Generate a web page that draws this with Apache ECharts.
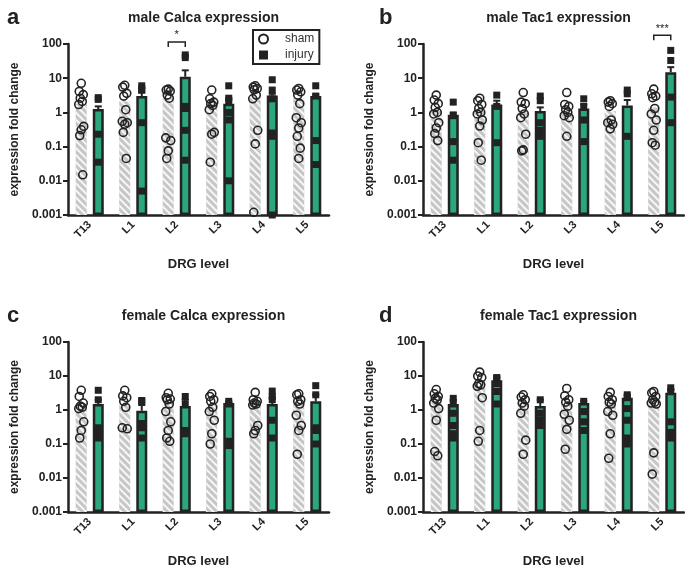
<!DOCTYPE html>
<html>
<head>
<meta charset="utf-8">
<script src="https://cdn.jsdelivr.net/npm/echarts@6/dist/echarts.min.js"></script>
<style>
  html, body { margin: 0; padding: 0; background: #fff; }
  #main { width: 685px; height: 569px; }
</style>
</head>
<body>
<div id="main"></div>
<script>
var categories = ['T13', 'L1', 'L2', 'L3', 'L4', 'L5'];
var yTickLabels = ['0.001', '0.01', '0.1', '1', '10', '100'];
var panelTitles = ['male Calca expression', 'male Tac1 expression', 'female Calca expression', 'female Tac1 expression'];
var panelLetters = ['a', 'b', 'c', 'd'];
var axisFloor = [0.001, 0.001, 0.001, 0.001, 0.001, 0.001];

// male Calca
var maleCalcaShamMean = [1.8, 2.1, 2.6, 1.8, 3.0, 2.6];
var maleCalcaInjuryMean = [1.25, 3.0, 11, 1.8, 3.1, 3.0];
var maleCalcaInjuryErr = [1.5, 3.8, 17, 2.5, 3.5, 3.3];
var maleCalcaShamPts = [
  [7.1, 4.1, 3.3, 2.6, 2.1, 1.7, 0.39, 0.31, 0.21, 0.015],
  [6.2, 5.5, 3.6, 3.0, 1.2, 0.55, 0.5, 0.45, 0.26, 0.045],
  [4.8, 4.5, 4.2, 3.2, 2.6, 0.18, 0.15, 0.075, 0.045],
  [4.5, 2.5, 2.0, 1.8, 1.6, 1.2, 0.26, 0.23, 0.035],
  [6.0, 5.5, 5.0, 4.6, 3.2, 2.5, 0.3, 0.12, 0.0012],
  [5.0, 4.5, 4.0, 3.2, 1.8, 0.7, 0.5, 0.35, 0.2, 0.09, 0.045]
];
var maleCalcaInjuryPts = [
  [2.7, 2.4, 0.23, 0.035],
  [6.0, 5.0, 4.5, 0.5, 0.005],
  [48, 40, 1.5, 1.3, 0.3, 0.04],
  [6.0, 2.6, 2.2, 1.0, 0.6, 0.01],
  [9.0, 4.5, 2.5, 0.25, 0.2, 0.001],
  [6.0, 3.0, 0.15, 0.03]
];

// male Tac1
var maleTac1ShamMean = [1.1, 1.1, 1.0, 1.1, 1.1, 1.4];
var maleTac1InjuryMean = [0.85, 1.7, 1.1, 1.3, 1.6, 15];
var maleTac1InjuryErr = [1.0, 2.2, 1.4, 1.7, 2.3, 21];
var maleTac1ShamPts = [
  [3.2, 2.3, 1.8, 1.4, 1.0, 0.9, 0.5, 0.35, 0.24, 0.15],
  [2.6, 2.2, 1.7, 1.3, 1.0, 0.9, 0.6, 0.4, 0.13, 0.04],
  [3.8, 2.0, 1.8, 1.3, 0.9, 0.7, 0.23, 0.08, 0.075],
  [3.8, 1.7, 1.5, 1.2, 1.0, 0.8, 0.7, 0.2],
  [2.2, 2.0, 1.8, 1.5, 0.6, 0.5, 0.45, 0.33],
  [4.8, 3.5, 3.0, 2.7, 1.3, 0.9, 0.6, 0.3, 0.13, 0.11]
];
var maleTac1InjuryPts = [
  [2.0, 0.8, 0.14, 0.04],
  [3.2, 1.5, 0.13],
  [3.0, 2.2, 0.5, 0.3, 0.2],
  [2.5, 1.5, 0.6, 0.14],
  [4.5, 3.5, 0.2],
  [65, 33, 2.8, 0.5]
];

// female Calca
var femaleCalcaShamMean = [1.2, 1.5, 1.5, 1.4, 1.5, 1.6];
var femaleCalcaInjuryMean = [1.5, 0.95, 1.3, 1.6, 1.5, 1.8];
var femaleCalcaInjuryErr = [2.0, 1.4, 2.0, 1.7, 2.3, 2.8];
var femaleCalcaShamPts = [
  [3.8, 2.5, 1.6, 1.3, 1.2, 1.1, 0.45, 0.25, 0.15],
  [3.8, 2.6, 2.3, 1.8, 1.2, 0.3, 0.28],
  [3.1, 2.3, 2.1, 2.0, 1.5, 0.9, 0.45, 0.25, 0.15, 0.12],
  [3.0, 2.5, 2.0, 1.8, 1.2, 0.9, 0.5, 0.2, 0.1],
  [3.3, 2.0, 1.8, 1.6, 1.5, 1.4, 0.35, 0.25, 0.2],
  [3.0, 2.8, 2.0, 1.8, 1.5, 0.7, 0.35, 0.25, 0.05]
];
var femaleCalcaInjuryPts = [
  [3.8, 2.0, 0.3, 0.2, 0.15],
  [1.9, 1.8, 0.4, 0.3, 0.15],
  [2.5, 1.5, 0.25, 0.2],
  [1.8, 1.5, 0.12, 0.09],
  [3.6, 2.5, 2.0, 0.5, 0.15],
  [5.2, 2.8, 0.3, 0.25, 0.1]
];

// female Tac1
var femaleTac1ShamMean = [1.7, 5.0, 1.6, 1.5, 1.5, 2.0];
var femaleTac1InjuryMean = [1.5, 7.5, 1.3, 1.6, 2.3, 3.2];
var femaleTac1InjuryErr = [2.0, 9.0, 2.0, 1.8, 2.8, 4.0];
var femaleTac1ShamPts = [
  [4.0, 3.0, 2.5, 2.2, 2.0, 1.6, 1.1, 0.5, 0.06, 0.045],
  [13, 10, 9, 6, 5.5, 5, 2.3, 0.25, 0.12],
  [2.8, 2.4, 2.0, 1.6, 1.3, 0.8, 0.13, 0.05],
  [4.3, 2.6, 2.0, 1.7, 1.3, 0.75, 0.5, 0.27, 0.07],
  [3.3, 2.5, 2.0, 1.7, 1.5, 0.9, 0.7, 0.2, 0.038],
  [3.5, 3.2, 2.5, 2.0, 1.7, 1.6, 1.5, 0.055, 0.013]
];
var femaleTac1InjuryPts = [
  [2.2, 1.5, 0.8, 0.35, 0.2, 0.15],
  [9.0, 8.5, 6.0, 3.5, 1.5],
  [2.0, 0.8, 0.5, 0.35],
  [1.8, 0.9, 0.45, 0.25],
  [2.8, 2.3, 1.1, 0.5, 0.15, 0.1],
  [4.5, 3.5, 0.45, 0.22, 0.15]
];

// significance brackets: panel, category, level, label
var sigPanels = [0, 1];
var sigCats = [2, 5];
var sigLevels = [115, 180];
var sigLabels = ['*', '***'];

var panels = [
  { shamMean: maleCalcaShamMean, injMean: maleCalcaInjuryMean, injErr: maleCalcaInjuryErr, shamPts: maleCalcaShamPts, injPts: maleCalcaInjuryPts },
  { shamMean: maleTac1ShamMean, injMean: maleTac1InjuryMean, injErr: maleTac1InjuryErr, shamPts: maleTac1ShamPts, injPts: maleTac1InjuryPts },
  { shamMean: femaleCalcaShamMean, injMean: femaleCalcaInjuryMean, injErr: femaleCalcaInjuryErr, shamPts: femaleCalcaShamPts, injPts: femaleCalcaInjuryPts },
  { shamMean: femaleTac1ShamMean, injMean: femaleTac1InjuryMean, injErr: femaleTac1InjuryErr, shamPts: femaleTac1ShamPts, injPts: femaleTac1InjuryPts }
];

var FONT = 'Arial, "Liberation Sans", sans-serif';
var INK = '#222';
var GREEN = '#2aa87b';
var OFF = 8.5;
var jitter = [0, -2, 2, -1, 1, -2.5, 2.5, 0, -1.5, 1.5, 0];

var gridPos = [
  { left: 68, top: 44 }, { left: 423, top: 44 },
  { left: 68, top: 342 }, { left: 423, top: 342 }
];

var grids = [], xAxes = [], yAxes = [], series = [], titles = [];

// bars on a log axis grow from 1, so each bar sits on a transparent
// stacked floor at the axis minimum
function floorBar(p, stack) {
  return {
    name: 'floor', type: 'bar', xAxisIndex: p, yAxisIndex: p, stack: stack,
    barWidth: 11, barGap: '55%', silent: true,
    itemStyle: { color: 'rgba(0,0,0,0)' },
    data: axisFloor
  };
}

gridPos.forEach(function (g, p) {
  grids.push({ left: g.left, top: g.top, width: 261, height: 171 });
  xAxes.push({
    type: 'category', gridIndex: p, data: categories,
    name: 'DRG level', nameLocation: 'middle', nameGap: 43,
    nameTextStyle: { fontFamily: FONT, fontWeight: 'bold', fontSize: 13, color: INK },
    axisLine: { lineStyle: { color: INK, width: 2.5 } },
    axisTick: { alignWithLabel: true, length: 5, lineStyle: { color: INK, width: 2 } },
    axisLabel: { rotate: 45, fontFamily: FONT, fontWeight: 'bold', fontSize: 11, color: INK, margin: 8 }
  });
  yAxes.push({
    type: 'log', logBase: 10, gridIndex: p, min: 0.001, max: 100,
    name: 'expression fold change', nameLocation: 'middle', nameGap: 47,
    nameTextStyle: { fontFamily: FONT, fontWeight: 'bold', fontSize: 12, color: INK },
    axisLine: { show: true, lineStyle: { color: INK, width: 2.5 } },
    axisTick: { show: true, length: 5, lineStyle: { color: INK, width: 2 } },
    minorTick: { show: false },
    splitLine: { show: false },
    axisLabel: {
      fontFamily: FONT, fontWeight: 'bold', fontSize: 12, color: INK, margin: 6,
      formatter: function (v) { return yTickLabels[Math.round(Math.log10(v)) + 3]; }
    }
  });
  titles.push({
    text: panelTitles[p], left: g.left + 130.5, top: g.top - 38, textAlign: 'center',
    textStyle: { fontFamily: FONT, fontWeight: 'bold', fontSize: 14, color: INK }
  });
  titles.push({
    text: panelLetters[p], left: p % 2 === 0 ? 2 : 374, top: g.top - 42,
    textStyle: { fontFamily: FONT, fontWeight: 'bold', fontSize: 22, color: INK }
  });

  var d = panels[p];
  series.push(floorBar(p, 'sham' + p));
  series.push({
    name: 'sham bar', type: 'bar', xAxisIndex: p, yAxisIndex: p, stack: 'sham' + p,
    barWidth: 11, barGap: '55%', z: 2,
    itemStyle: {
      color: '#c6c6c6',
      decal: { symbol: 'rect', symbolSize: 1, dashArrayX: [1, 0], dashArrayY: [2, 3], rotation: Math.PI / 4, color: 'rgba(255,255,255,0.85)' }
    },
    data: d.shamMean
  });
  series.push(floorBar(p, 'inj' + p));
  series.push({
    name: 'injury bar', type: 'bar', xAxisIndex: p, yAxisIndex: p, stack: 'inj' + p,
    barWidth: 11, barGap: '55%', z: 2,
    itemStyle: { color: GREEN, borderColor: INK, borderWidth: 2.5 },
    data: d.injMean
  });
  var shamData = [], injData = [];
  d.shamPts.forEach(function (arr, c) {
    arr.forEach(function (v, k) {
      shamData.push({ value: [c, v], symbolOffset: [-OFF + jitter[k], 0] });
    });
  });
  d.injPts.forEach(function (arr, c) {
    arr.forEach(function (v) { injData.push({ value: [c, v], symbolOffset: [OFF, 0] }); });
  });
  series.push({
    name: 'sham', type: 'scatter', xAxisIndex: p, yAxisIndex: p, z: 4,
    symbol: 'circle', symbolSize: 8,
    itemStyle: { color: 'rgba(0,0,0,0)', borderColor: INK, borderWidth: 1.6, opacity: 1 },
    data: shamData
  });
  series.push({
    name: 'injury', type: 'scatter', xAxisIndex: p, yAxisIndex: p, z: 4,
    symbol: 'rect', symbolSize: 7,
    itemStyle: { color: INK, opacity: 1 },
    data: injData
  });
  series.push({
    name: 'sem', type: 'custom', xAxisIndex: p, yAxisIndex: p, z: 5,
    renderItem: function (params, api) {
      var base = api.coord([api.value(0), api.value(1)]);
      var top = api.coord([api.value(0), api.value(2)]);
      var cx = base[0] + OFF;
      return {
        type: 'group', children: [
          { type: 'line', shape: { x1: cx, y1: base[1], x2: cx, y2: top[1] }, style: { stroke: INK, lineWidth: 2 } },
          { type: 'line', shape: { x1: cx - 3.5, y1: top[1], x2: cx + 3.5, y2: top[1] }, style: { stroke: INK, lineWidth: 2 } }
        ]
      };
    },
    data: d.injMean.map(function (m, c) { return [c, m, d.injErr[c]]; })
  });
});

sigPanels.forEach(function (p, i) {
  series.push({
    name: 'sig', type: 'custom', xAxisIndex: p, yAxisIndex: p, z: 6, clip: false,
    renderItem: function (params, api) {
      var pt = api.coord([api.value(0), api.value(1)]);
      var x1 = pt[0] - OFF, x2 = pt[0] + OFF, y = pt[1];
      return {
        type: 'group', children: [
          { type: 'polyline', shape: { points: [[x1, y + 5], [x1, y], [x2, y], [x2, y + 5]] }, style: { stroke: INK, lineWidth: 1.5, fill: null } },
          { type: 'text', style: { x: pt[0], y: y - 1, text: sigLabels[i], textAlign: 'center', textVerticalAlign: 'bottom', font: '11px ' + FONT, fill: INK } }
        ]
      };
    },
    data: [[sigCats[i], sigLevels[i]]]
  });
});

var chart = echarts.init(document.getElementById('main'), null, { renderer: 'canvas' });
chart.setOption({
  animation: false,
  backgroundColor: '#fff',
  title: titles,
  grid: grids,
  xAxis: xAxes,
  yAxis: yAxes,
  legend: {
    data: [
      { name: 'sham', icon: 'circle', itemStyle: { color: 'rgba(0,0,0,0)', borderColor: INK, borderWidth: 2 } },
      { name: 'injury', icon: 'rect', itemStyle: { color: INK } }
    ],
    orient: 'vertical', left: 253, top: 30,
    itemWidth: 9, itemHeight: 9, itemGap: 4,
    padding: [3, 5, 3, 5],
    borderColor: INK, borderWidth: 2, borderRadius: 0,
    selectedMode: false,
    textStyle: { fontFamily: FONT, fontSize: 12, color: '#333', padding: [0, 0, 0, 12] }
  },
  series: series
});
</script>
</body>
</html>
